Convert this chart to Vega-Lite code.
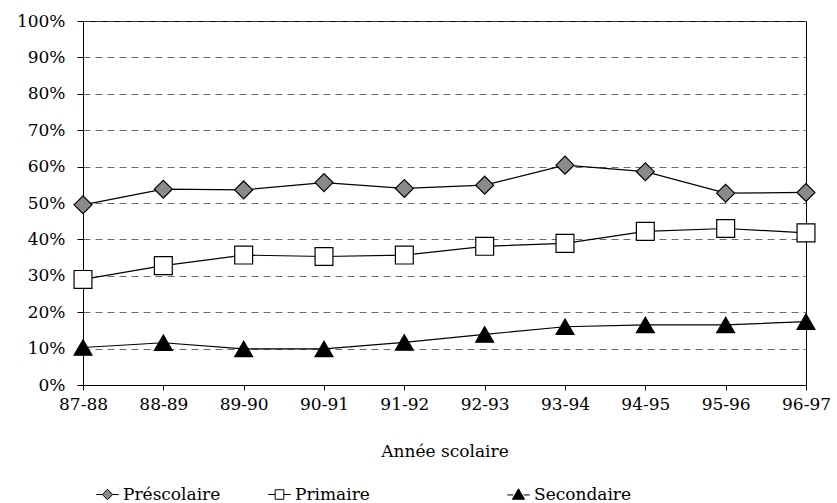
{
  "$schema": "https://vega.github.io/schema/vega-lite/v6.json",
  "width": 723,
  "height": 364,
  "autosize": {"type": "none"},
  "padding": {"left": 83, "top": 21, "right": 31, "bottom": 118},
  "background": "white",
  "config": {
    "font": "DejaVu Serif",
    "view": {"stroke": "black", "strokeWidth": 1},
    "axis": {"labelFont": "DejaVu Serif", "titleFont": "DejaVu Serif", "labelColor": "black", "titleColor": "black", "domainColor": "black", "tickColor": "black", "labelFontSize": 17, "titleFontSize": 17, "titleFontWeight": "normal"},
    "legend": {"orient": "none", "legendY": 464, "direction": "horizontal", "title": null, "symbolOpacity": 1, "symbolStrokeColor": "black", "symbolStrokeWidth": 1, "symbolSize": 300, "labelFont": "DejaVu Serif", "labelFontSize": 17, "labelColor": "black", "labelOffset": 6, "labelLimit": 300}
  },
  "data": {"values": [
    {"annee": "87-88", "serie": "Préscolaire", "valeur": 0.495},
    {"annee": "88-89", "serie": "Préscolaire", "valeur": 0.538},
    {"annee": "89-90", "serie": "Préscolaire", "valeur": 0.536},
    {"annee": "90-91", "serie": "Préscolaire", "valeur": 0.556},
    {"annee": "91-92", "serie": "Préscolaire", "valeur": 0.540},
    {"annee": "92-93", "serie": "Préscolaire", "valeur": 0.549},
    {"annee": "93-94", "serie": "Préscolaire", "valeur": 0.604},
    {"annee": "94-95", "serie": "Préscolaire", "valeur": 0.586},
    {"annee": "95-96", "serie": "Préscolaire", "valeur": 0.527},
    {"annee": "96-97", "serie": "Préscolaire", "valeur": 0.529},
    {"annee": "87-88", "serie": "Primaire", "valeur": 0.290},
    {"annee": "88-89", "serie": "Primaire", "valeur": 0.328},
    {"annee": "89-90", "serie": "Primaire", "valeur": 0.357},
    {"annee": "90-91", "serie": "Primaire", "valeur": 0.353},
    {"annee": "91-92", "serie": "Primaire", "valeur": 0.357},
    {"annee": "92-93", "serie": "Primaire", "valeur": 0.381},
    {"annee": "93-94", "serie": "Primaire", "valeur": 0.389},
    {"annee": "94-95", "serie": "Primaire", "valeur": 0.422},
    {"annee": "95-96", "serie": "Primaire", "valeur": 0.430},
    {"annee": "96-97", "serie": "Primaire", "valeur": 0.418},
    {"annee": "87-88", "serie": "Secondaire", "valeur": 0.103},
    {"annee": "88-89", "serie": "Secondaire", "valeur": 0.116},
    {"annee": "89-90", "serie": "Secondaire", "valeur": 0.099},
    {"annee": "90-91", "serie": "Secondaire", "valeur": 0.099},
    {"annee": "91-92", "serie": "Secondaire", "valeur": 0.117},
    {"annee": "92-93", "serie": "Secondaire", "valeur": 0.139},
    {"annee": "93-94", "serie": "Secondaire", "valeur": 0.160},
    {"annee": "94-95", "serie": "Secondaire", "valeur": 0.165},
    {"annee": "95-96", "serie": "Secondaire", "valeur": 0.165},
    {"annee": "96-97", "serie": "Secondaire", "valeur": 0.174}
  ]},
  "encoding": {
    "x": {"field": "annee", "type": "ordinal", "scale": {"type": "point", "padding": 0},
      "axis": {"title": "Année scolaire", "labelAngle": 0, "tickSize": 5, "labelPadding": 6, "titlePadding": 31, "grid": false}},
    "y": {"field": "valeur", "type": "quantitative", "scale": {"domain": [0, 1], "nice": false},
      "axis": {"title": null, "format": ".0%", "tickCount": 11, "values": [0,0.1,0.2,0.3,0.4,0.5,0.6,0.7,0.8,0.9,1], "labelOverlap": false, "tickSize": 6, "labelPadding": 12, "grid": true, "gridDash": [7, 5], "gridColor": "#444", "gridWidth": 0.8}}
  },
  "layer": [
    {
      "mark": {"type": "line", "color": "black", "strokeWidth": 1.2},
      "encoding": {"detail": {"field": "serie"}}
    },
    {
      "transform": [{"filter": "datum.serie == 'Préscolaire'"}],
      "mark": {"type": "point", "shape": "diamond", "filled": true, "opacity": 1, "size": 320},
      "encoding": {
        "stroke": {"value": "black"},
        "strokeWidth": {"value": 1.2},
        "fill": {"field": "serie", "type": "nominal",
          "scale": {"domain": ["Préscolaire"], "range": ["#8a8a8a"]},
          "legend": {"legendX": 15, "symbolType": "M-1.3,0H-0.6M0.6,0H1.3M0,-0.6L0.6,0L0,0.6L-0.6,0Z"}}
      }
    },
    {
      "transform": [{"filter": "datum.serie == 'Primaire'"}],
      "mark": {"type": "point", "shape": "square", "filled": true, "opacity": 1, "size": 320},
      "encoding": {
        "stroke": {"value": "black"},
        "strokeWidth": {"value": 1.2},
        "fill": {"field": "serie", "type": "nominal",
          "scale": {"domain": ["Primaire"], "range": ["white"]},
          "legend": {"legendX": 187, "symbolType": "M-1.3,0H-0.5M0.5,0H1.3M-0.5,-0.55H0.5V0.55H-0.5Z"}}
      }
    },
    {
      "transform": [{"filter": "datum.serie == 'Secondaire'"}],
      "mark": {"type": "point", "shape": "triangle-up", "filled": true, "opacity": 1, "size": 320},
      "encoding": {
        "stroke": {"value": "black"},
        "strokeWidth": {"value": 1.2},
        "fill": {"field": "serie", "type": "nominal",
          "scale": {"domain": ["Secondaire"], "range": ["black"]},
          "legend": {"legendX": 426, "symbolType": "M-1.3,0.05H-0.6M0.6,0.05H1.3M0,-0.65L0.7,0.55L-0.7,0.55Z"}}
      }
    }
  ],
  "resolve": {"scale": {"fill": "independent"}, "legend": {"fill": "independent"}}
}
